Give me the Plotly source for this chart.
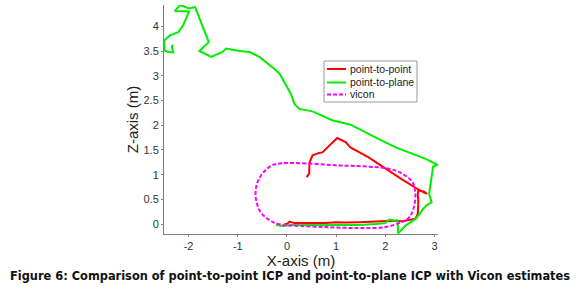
import plotly.graph_objects as go

# point-to-point ICP (red)
p2p_x = [-0.05, 0.0, 0.05, 0.09, 0.15, 0.4, 0.79, 1.0, 1.2, 1.47, 1.8, 2.14, 2.34, 2.48, 2.61,
         2.66, 2.67, 2.66, 2.67, 2.78, 2.85, 2.78, 2.67, 2.33, 2.0, 1.66, 1.29, 1.19, 1.02,
         0.85, 0.72, 0.65, 0.52, 0.46, 0.45, 0.40]
p2p_z = [0.0, 0.0, 0.05, 0.04, 0.02, 0.02, 0.02, 0.04, 0.03, 0.04, 0.05, 0.07, 0.06, 0.09, 0.11,
         0.21, 0.45, 0.61, 0.68, 0.66, 0.61, 0.64, 0.70, 0.91, 1.12, 1.35, 1.55, 1.66, 1.74,
         1.58, 1.45, 1.44, 1.39, 1.25, 1.02, 0.95]

# point-to-plane ICP (green)
p2pl_x = [-0.22, -0.08, 0.11, 0.5, 0.79, 1.2, 1.47, 1.8, 2.0, 2.04, 2.1, 2.17, 2.24, 2.25, 2.26,
          2.41, 2.62, 2.77, 2.85, 2.94, 2.89, 2.97, 3.06, 2.82, 2.55, 2.21, 1.87, 1.53, 1.29,
          0.92, 0.69, 0.52, 0.25, 0.15, 0.08, -0.02, -0.15, -0.26, -0.56, -0.76, -0.97, -1.24,
          -1.31, -1.54, -1.78, -1.59, -1.87, -1.99, -2.08, -2.17, -2.28, -1.99, -2.11, -2.21,
          -2.37, -2.5, -2.49, -2.41, -2.31, -2.34, -2.32]
p2pl_z = [-0.02, -0.04, -0.02, -0.02, -0.02, -0.01, -0.02, 0.0, 0.02, 0.07, 0.09, 0.07, 0.08, 0.06, -0.19,
          -0.03, 0.11, 0.31, 0.39, 0.44, 0.61, 1.16, 1.2, 1.32, 1.42, 1.55, 1.72, 1.89, 2.01,
          2.10, 2.20, 2.28, 2.33, 2.43, 2.63, 2.80, 3.04, 3.14, 3.38, 3.48, 3.50, 3.55,
          3.48, 3.38, 3.50, 3.68, 4.39, 4.36, 4.39, 4.43, 4.31, 4.30, 4.02, 3.88,
          3.82, 3.71, 3.51, 3.48, 3.47, 3.58, 3.63]

# Vicon ground truth (magenta dashed)
vicon_x = [-0.1, 0.32, 0.99, 1.67, 2.07, 2.34, 2.55, 2.61, 2.58, 2.51, 2.41, 2.31, 2.0, 1.47, 0.79,
           0.11, -0.14, -0.3, -0.45, -0.56, -0.62, -0.64, -0.62, -0.56, -0.45, -0.3, -0.1]
vicon_z = [1.23, 1.23, 1.19, 1.16, 1.12, 1.02, 0.85, 0.64, 0.34, 0.17, 0.07, 0.03, -0.06, -0.08, -0.06,
           -0.03, -0.01, 0.05, 0.15, 0.28, 0.45, 0.61, 0.78, 0.93, 1.08, 1.19, 1.23]

series_names = ["point-to-point", "point-to-plane", "vicon"]
x_ticks = [-2, -1, 0, 1, 2, 3]
z_ticks = [0, 0.5, 1, 1.5, 2, 2.5, 3, 3.5, 4]
z_tick_labels = ["0", "0.5", "1", "1.5", "2", "2.5", "3", "3.5", "4"]
caption = "Figure 6: Comparison of point-to-point ICP and point-to-plane ICP with Vicon estimates"

W, H = 580, 290
ML, MR, MT, MB = 164, 142, 5, 56
PW, PH = W - ML - MR, H - MT - MB


def px(xpix):
    return (xpix - ML) / PW


def py(ypix):
    return (H - MB - ypix) / PH


colors = ["#ff0000", "#00ee00", "#ff00ff"]
dashes = ["solid", "solid", "4px,2px"]

fig = go.Figure()
fig.add_trace(go.Scatter(x=p2p_x, y=p2p_z, mode="lines", name=series_names[0],
                         line=dict(color=colors[0], width=2)))
fig.add_trace(go.Scatter(x=p2pl_x, y=p2pl_z, mode="lines", name=series_names[1],
                         line=dict(color=colors[1], width=2)))
fig.add_trace(go.Scatter(x=vicon_x, y=vicon_z, mode="lines", name=series_names[2],
                         line=dict(color=colors[2], width=2, dash=dashes[2], shape="spline")))

axis_common = dict(showgrid=False, zeroline=False, showline=True, linecolor="#808080",
                   linewidth=1, ticks="outside", ticklen=2, tickcolor="#808080",
                   tickfont=dict(family="Liberation Sans, Arial", size=11, color="#333333"))

fig.update_layout(
    width=W, height=H, autosize=False,
    margin=dict(l=ML, r=MR, t=MT, b=MB),
    paper_bgcolor="white", plot_bgcolor="white",
    font=dict(family="Liberation Sans, Arial", color="#222222"),
    xaxis=dict(range=[-2.5, 3.07], tickvals=x_ticks, ticktext=[str(v) for v in x_ticks],
               title=dict(text="X-axis (m)", font=dict(size=15, color="#222222"), standoff=0),
               **axis_common),
    yaxis=dict(range=[-0.2, 4.43], tickvals=z_ticks, ticktext=z_tick_labels,
               title=dict(text="Z-axis (m)", font=dict(size=15, color="#222222"), standoff=1),
               **axis_common),
    showlegend=False,
)

# legend box drawn in paper coordinates
fig.add_shape(type="rect", xref="paper", yref="paper",
              x0=px(324), x1=px(417), y0=py(102), y1=py(61),
              line=dict(color="#999999", width=1), fillcolor="white", layer="above")
row_y = [69, 82.5, 94.5]
for name, col, dsh, ry in zip(series_names, colors, dashes, row_y):
    fig.add_shape(type="line", xref="paper", yref="paper",
                  x0=px(327), x1=px(346), y0=py(ry), y1=py(ry),
                  line=dict(color=col, width=2, dash=dsh), layer="above")
    fig.add_annotation(text=name, xref="paper", yref="paper", x=px(348), y=py(ry),
                       xanchor="left", yanchor="middle", showarrow=False,
                       font=dict(family="Liberation Sans, Arial", size=10.5, color="#222222"))

fig.add_annotation(text="<b>" + caption + "</b>",
                   xref="paper", yref="paper", x=px(290), y=py(276),
                   xanchor="center", yanchor="middle", showarrow=False,
                   font=dict(family="DejaVu Sans", size=11.4, color="#111111"))

fig.write_html("out.html", config={"displayModeBar": False},
               post_script="document.body.style.margin='0px';")
